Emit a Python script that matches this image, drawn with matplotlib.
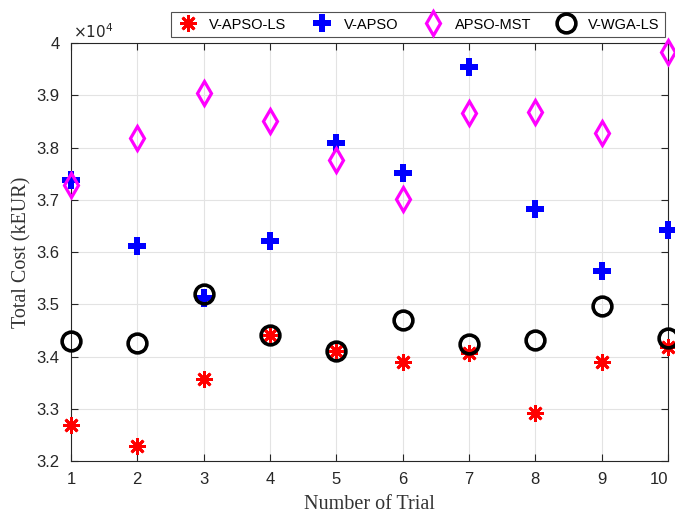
import numpy as np
import matplotlib
matplotlib.use("Agg")
import matplotlib.pyplot as plt
from matplotlib.ticker import FuncFormatter

trials = [1, 2, 3, 4, 5, 6, 7, 8, 9, 10]

v_apso_ls = [32695, 32280, 33570, 34420, 34110, 33890, 34070, 32920, 33900, 34180]
v_apso = [37370, 36110, 35120, 36220, 38090, 37510, 39550, 36830, 35630, 36430]
apso_mst = [37285, 38180, 39040, 38500, 37770, 37020, 38660, 38680, 38280, 39820]
v_wga_ls = [34290, 34250, 35190, 34410, 34100, 34690, 34230, 34320, 34960, 34360]

plt.rcParams["font.family"] = ["Liberation Sans", "DejaVu Sans"]

fig = plt.figure(figsize=(6.75, 5.16), dpi=100)
ax = fig.add_axes([0.105, 0.1066, 0.8846, 0.81])

# red under, circles on top; markers not clipped at the box like matlab
ax.plot(trials, v_apso_ls, linestyle="none", marker=(8, 2, 0), markersize=12,
        markeredgewidth=2, color="red", label="V-APSO-LS", zorder=3, clip_on=False)
ax.plot(trials, v_apso, linestyle="none", marker="P", markersize=12.5,
        markeredgewidth=0, color="blue", label="V-APSO", zorder=3, clip_on=False)
ax.plot(trials, apso_mst, linestyle="none", marker="d", markersize=12,
        markeredgewidth=2.3, markerfacecolor="none", markeredgecolor="magenta",
        label="APSO-MST", zorder=3, clip_on=False)
ax.plot(trials, v_wga_ls, linestyle="none", marker="o", markersize=13.5,
        markeredgewidth=2.6, markerfacecolor="none", markeredgecolor="black",
        label="V-WGA-LS", zorder=4, clip_on=False)

ax.set_xlim(1, 10)
ax.set_ylim(32000, 40000)
ax.set_xticks(trials)
ax.set_yticks(np.arange(32000, 40001, 1000))
ax.yaxis.set_major_formatter(FuncFormatter(lambda v, p: "%g" % (v / 1e4)))
ax.text(0.003, 1.006, r"$\times10^4$", transform=ax.transAxes, fontsize=11,
        color="#262626", ha="left", va="bottom")

ax.grid(True, color="#e3e3e3", linewidth=0.8)
ax.set_axisbelow(True)
ax.tick_params(direction="in", top=True, right=True, labelsize=12,
               colors="#262626", length=5, pad=8)
for s in ax.spines.values():
    s.set_linewidth(0.8)
    s.set_color("#262626")
# last x label sits right at the figure edge, nudge it in a bit
ax.get_xticklabels()[-1].set_horizontalalignment("right")
ax.get_xticklabels()[-1].set_x(10)

ax.set_xlabel("Number of Trial", family="Liberation Serif", fontsize=14.5,
              color="#333333", labelpad=6)
ax.set_ylabel("Total Cost (kEUR)", family="Liberation Serif", fontsize=14.5,
              color="#333333", labelpad=4)

leg = fig.legend(loc="center", bbox_to_anchor=(0.619, 0.9525), ncol=4,
                 fontsize=10.5, frameon=True, fancybox=False, edgecolor="#262626",
                 handletextpad=0.7, columnspacing=1.6, borderpad=0.35,
                 handlelength=1.6)
leg.get_frame().set_linewidth(0.8)

fig.savefig("out.png", dpi=100)
